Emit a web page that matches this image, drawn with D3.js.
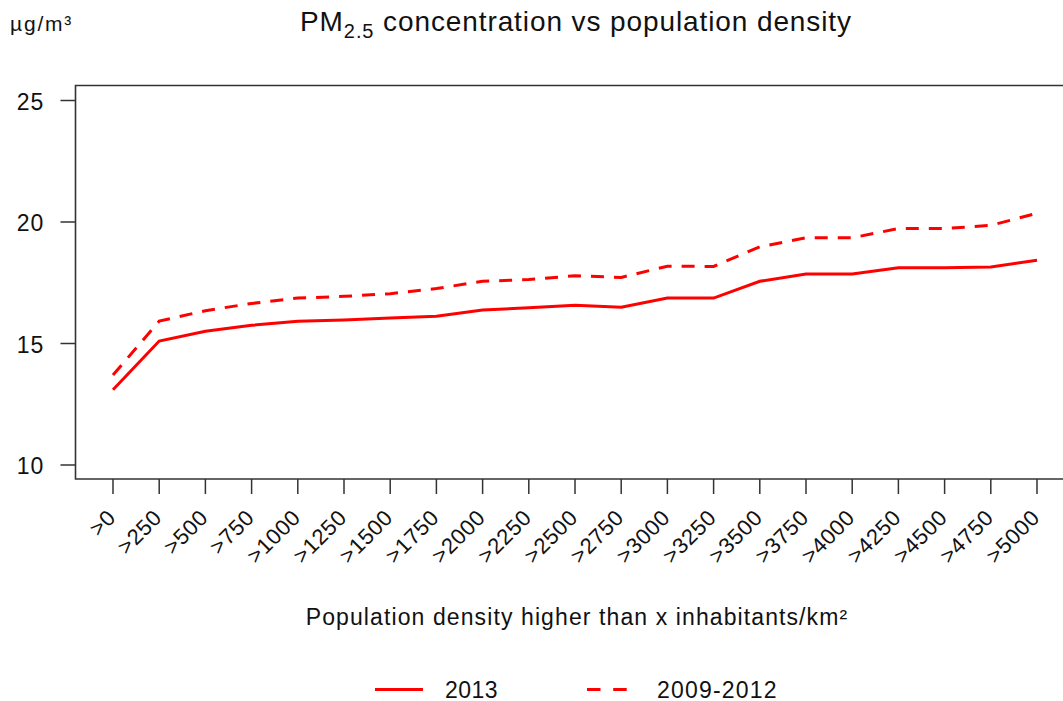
<!DOCTYPE html>
<html><head><meta charset="utf-8">
<script src="https://cdn.jsdelivr.net/npm/d3@7"></script>
<style>body{margin:0;background:#fff}svg{display:block;font-family:"Liberation Sans",Arial,sans-serif}</style>
</head><body><svg id="c" width="1063" height="701"></svg>
<script>
const categories = [">0",">250",">500",">750",">1000",">1250",">1500",">1750",">2000",">2250",">2500",">2750",">3000",">3250",">3500",">3750",">4000",">4250",">4500",">4750",">5000"];
const s2013 = [13.1,15.1,15.5,15.75,15.92,15.97,16.05,16.12,16.38,16.47,16.57,16.49,16.87,16.87,17.56,17.86,17.86,18.12,18.12,18.15,18.43];
const s2009 = [13.7,15.92,16.35,16.65,16.87,16.94,17.05,17.26,17.56,17.63,17.79,17.72,18.18,18.17,18.98,19.35,19.35,19.73,19.73,19.86,20.36];
const yTicks = [10,15,20,25];
const seriesNames = ["2013","2009-2012"];

const svg = d3.select("#c");
const x = d3.scalePoint().domain(categories).range([113,1037]);
const y = d3.scaleLinear().domain([10,25]).range([465,100.5]);
const boxL = 75.5, boxT = 85.5, boxB = 479, boxR = 1074;
const axisCol = "#333";
const txt = "#111";

svg.append("path").attr("d",`M${boxR},${boxT}H${boxL}V${boxB}H${boxR}`)
  .attr("fill","none").attr("stroke",axisCol).attr("stroke-width",1.6);

// y axis
const ya = svg.append("g");
yTicks.forEach(t=>{
  ya.append("line").attr("x1",boxL-15).attr("x2",boxL).attr("y1",y(t)).attr("y2",y(t)).attr("stroke",axisCol).attr("stroke-width",1.5);
  ya.append("text").attr("x",44).attr("y",y(t)+9).attr("text-anchor","end").attr("font-size",23).attr("letter-spacing",0.8).attr("fill",txt).text(t);
});
// x axis
const xa = svg.append("g");
categories.forEach(c=>{
  xa.append("line").attr("x1",x(c)).attr("x2",x(c)).attr("y1",boxB).attr("y2",boxB+15).attr("stroke",axisCol).attr("stroke-width",1.5);
  xa.append("text").attr("transform",`translate(${x(c)+4},${boxB+40}) rotate(-45)`)
    .attr("text-anchor","end").attr("font-size",22).attr("letter-spacing",0.6).attr("fill",txt).text(c);
});

const line = d3.line().x((d,i)=>x(categories[i])).y(d=>y(d));
svg.append("path").datum(s2013).attr("d",line).attr("fill","none").attr("stroke","#ff0000").attr("stroke-width",3);
svg.append("path").datum(s2009).attr("d",line).attr("fill","none").attr("stroke","#ff0000").attr("stroke-width",3).attr("stroke-dasharray","13,10");

// title
const tt = svg.append("text").attr("x",576).attr("y",31).attr("text-anchor","middle").attr("font-size",28).attr("letter-spacing",0.9).attr("fill",txt);
tt.append("tspan").text("PM");
tt.append("tspan").attr("font-size",20).attr("dy",7).text("2.5");
tt.append("tspan").attr("dy",-7).text(" concentration vs population density");
svg.append("text").attr("x",10).attr("y",31).attr("font-size",21).attr("letter-spacing",1.8).attr("fill",txt).text("µg/m³");

svg.append("text").attr("x",577).attr("y",625).attr("text-anchor","middle").attr("font-size",23).attr("letter-spacing",1.1).attr("fill",txt).text("Population density higher than x inhabitants/km²");

// legend
const lg = svg.append("g");
lg.append("line").attr("x1",375).attr("x2",423).attr("y1",689.5).attr("y2",689.5).attr("stroke","#ff0000").attr("stroke-width",3);
lg.append("text").attr("x",445).attr("y",698).attr("font-size",23).attr("letter-spacing",0.5).attr("fill",txt).text(seriesNames[0]);
lg.append("line").attr("x1",587).attr("x2",627).attr("y1",689.5).attr("y2",689.5).attr("stroke","#ff0000").attr("stroke-width",3).attr("stroke-dasharray","13.5,12.7");
lg.append("text").attr("x",657).attr("y",698).attr("font-size",23).attr("letter-spacing",1.2).attr("fill",txt).text(seriesNames[1]);
</script></body></html>
